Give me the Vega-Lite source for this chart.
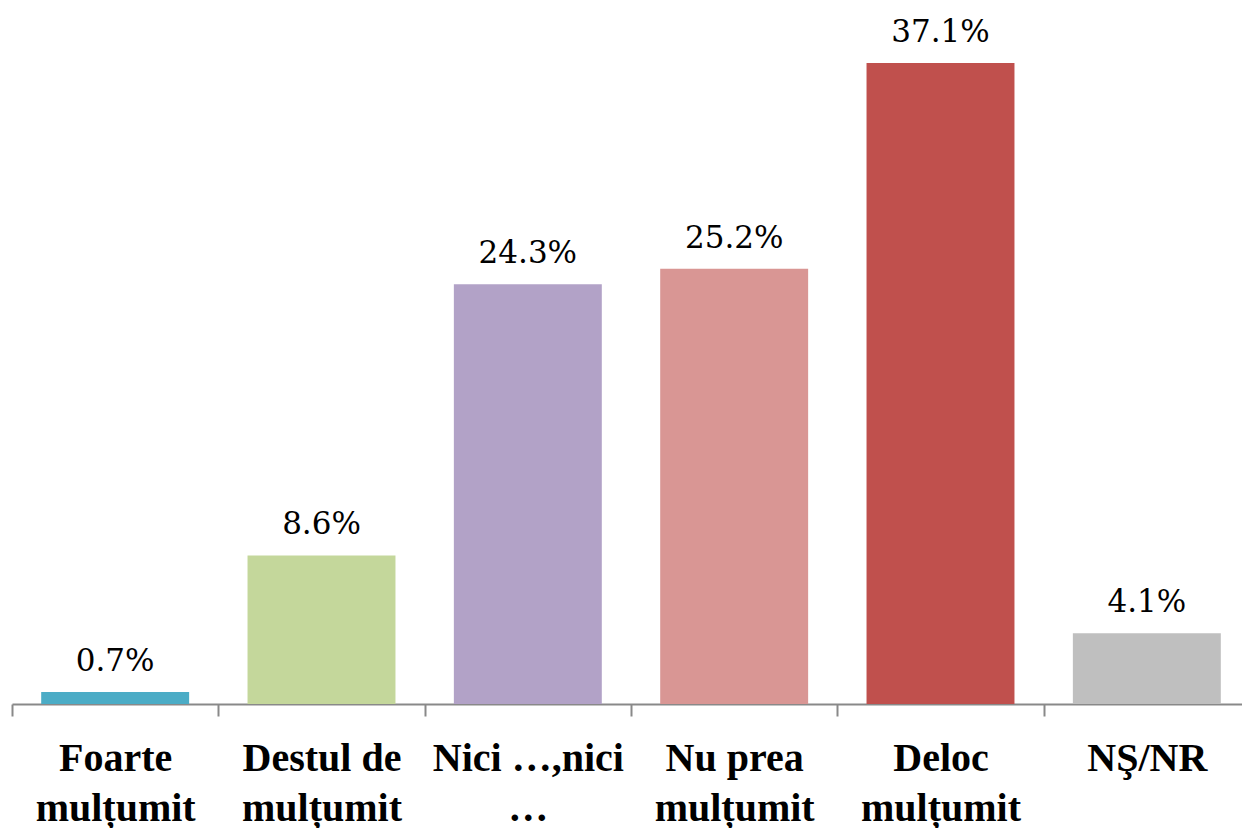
{
  "$schema": "https://vega.github.io/schema/vega-lite/v6.json",
  "width": 1238,
  "height": 691,
  "autosize": {"type": "none"},
  "padding": {"left": 12, "top": 13, "right": 0, "bottom": 124},
  "background": "white",
  "config": {"view": {"stroke": null}},
  "data": {
    "values": [
      {"cat": "Foarte|mulțumit", "value": 0.007},
      {"cat": "Destul de|mulțumit", "value": 0.086},
      {"cat": "Nici …,nici|…", "value": 0.243},
      {"cat": "Nu prea|mulțumit", "value": 0.252},
      {"cat": "Deloc|mulțumit", "value": 0.371},
      {"cat": "NŞ/NR", "value": 0.041}
    ]
  },
  "encoding": {
    "x": {
      "field": "cat",
      "type": "nominal",
      "sort": null,
      "scale": {"paddingInner": 0, "paddingOuter": 0},
      "axis": {
        "title": null,
        "labelAngle": 0,
        "labelExpr": "split(datum.label, '|')",
        "labelFont": "Times New Roman",
        "labelFontSize": 40,
        "labelFontWeight": "bold",
        "labelColor": "black",
        "labelLineHeight": 50,
        "labelPadding": 22,
        "labelBaseline": "top",
        "tickBand": "extent",
        "tickSize": 12,
        "tickColor": "#898989",
        "tickWidth": 2,
        "domainColor": "#898989",
        "domainWidth": 2,
        "labelLimit": 300
      }
    },
    "y": {
      "field": "value",
      "type": "quantitative",
      "scale": {"domain": [0, 0.4], "nice": false},
      "axis": null
    }
  },
  "layer": [
    {
      "mark": {"type": "bar", "width": {"band": 0.717}},
      "encoding": {
        "color": {
          "field": "cat",
          "type": "nominal",
          "sort": null,
          "legend": null,
          "scale": {
            "domain": ["Foarte|mulțumit", "Destul de|mulțumit", "Nici …,nici|…", "Nu prea|mulțumit", "Deloc|mulțumit", "NŞ/NR"],
            "range": ["#4BACC6", "#C4D79B", "#B2A2C7", "#D99694", "#C0504D", "#BFBFBF"]
          }
        }
      }
    },
    {
      "mark": {"type": "text", "font": "DejaVu Serif", "fontSize": 31, "baseline": "alphabetic", "dy": -21, "color": "black"},
      "encoding": {
        "text": {"field": "value", "type": "quantitative", "format": ".1%"}
      }
    }
  ]
}
